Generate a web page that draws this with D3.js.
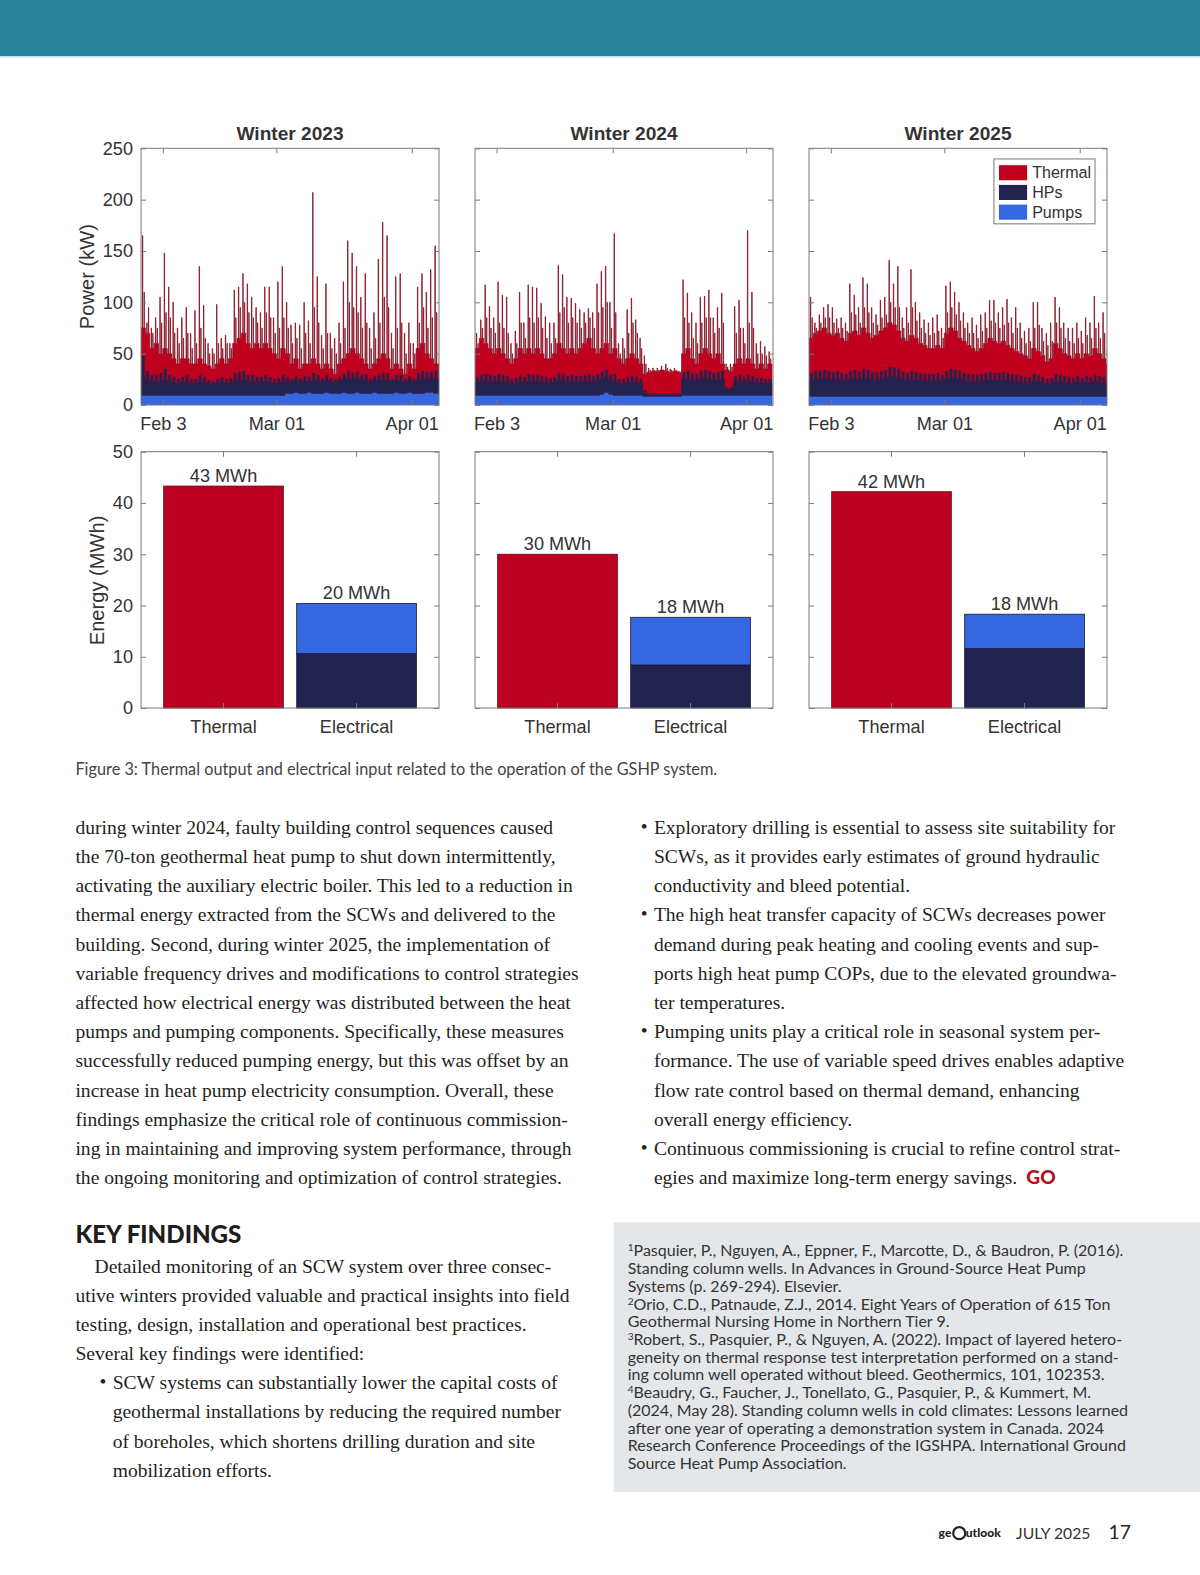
<!DOCTYPE html>
<html lang="en">
<head>
<meta charset="UTF-8" />
<title>Figure 3 - Thermal output and electrical input</title>
<script src="https://d3js.org/d3.v7.min.js"></script>
<style>
  body { margin: 0; background: #fff; }
  svg { display: block; }
  .chart text { font-family: "Liberation Sans", Arial, sans-serif; fill: #333; }
  .body-text { font-family: "Liberation Serif", "Times New Roman", serif; font-size: 19.45px; fill: #231f20; }
  .sans { font-family: Lato, "Open Sans", sans-serif; }
</style>
</head>
<body>
<svg id="page" width="1200" height="1575"></svg>
<script>
// ---- data ----
const years = [2023, 2024, 2025];
const dateTicks = [[1, 3], [2, 1], [3, 1]];          // month index, day
const dateTickLabels = ["Feb 3", "Mar 01", "Apr 01"];
const powerTicks = [0, 50, 100, 150, 200, 250];
const energyTicks = [0, 10, 20, 30, 40, 50];
const seriesNames = ["Thermal", "HPs", "Pumps"];
const barCategories = ["Thermal", "Electrical"];

// daily values from Jan 29, kW
const thermalPeak2023 = [165,80,75,85,105,148,115,100,75,85,95,70,92,135,97,60,55,98,65,68,60,112,115,128,118,105,95,90,115,115,85,120,135,100,78,80,78,100,82,207,125,68,118,70,65,80,120,160,148,135,105,128,75,90,142,178,165,70,125,128,70,80,60,115,128,110,132,155,45];
const thermalMid2023 = [110,95,70,75,80,90,85,70,60,65,70,55,60,75,65,50,50,60,55,60,55,85,95,100,90,85,80,75,90,85,70,75,85,75,60,65,55,70,60,95,80,55,70,55,50,60,75,100,95,90,75,80,55,65,80,105,95,55,75,80,50,60,50,80,95,75,85,90,45];
const thermalBase2023 = [75,70,55,60,50,55,50,45,40,45,45,40,40,45,40,38,35,40,45,40,45,60,65,70,60,55,60,55,60,55,50,45,55,50,40,45,35,40,40,45,40,35,40,35,30,40,45,50,55,50,45,40,35,40,45,50,45,35,40,35,30,40,35,55,60,50,45,40,40];
const hpPeak2023 = [39,24,20,20,22,26,20,18,16,18,20,16,16,20,18,15,14,16,18,16,17,22,23,24,20,20,18,18,20,18,16,17,20,16,14,16,15,17,15,20,18,15,17,15,14,16,18,22,20,20,18,19,14,16,18,20,20,14,17,18,14,16,14,20,22,20,20,22,16];
const hpBase2023 = [18,15,14,14,14,15,14,13,12,13,13,12,12,13,13,12,11,12,13,12,12,14,15,15,14,14,13,13,14,13,12,12,13,12,11,12,11,12,11,13,12,11,12,11,11,12,13,14,14,13,13,13,11,12,13,13,13,11,12,12,11,12,11,13,14,13,13,14,12];
const pumps2023 = [9,9,9,9,9,9,9,9,9,9,9,9,9,9,9,9,9,9,9,9,9,9,9,9,9,9,9,9,9,9,9,9,9,11,11,12,11,11,12,11,11,11,12,11,11,11,12,11,11,12,11,11,11,12,11,11,11,11,12,11,11,12,11,11,11,12,12,11,11];

const thermalPeak2024 = [70,83,117,96,85,120,107,105,60,72,110,80,117,115,114,99,86,80,80,136,127,105,104,99,93,90,94,90,118,130,135,100,167,60,65,93,104,83,65,48,36,36,36,38,40,35,36,33,122,109,90,80,105,106,112,85,95,109,40,40,96,102,75,170,110,60,62,57,52];
const thermalMid2024 = [60,75,85,75,70,80,75,70,50,60,80,65,85,80,85,75,65,60,65,90,95,80,85,80,75,80,85,75,90,95,100,75,90,50,55,70,80,70,55,40,34,34,34,34,36,34,34,32,85,80,65,60,80,85,85,70,75,80,37,37,70,75,60,80,75,50,50,48,45];
const thermalBase2024 = [55,65,60,55,50,55,50,45,40,45,55,50,55,50,55,50,45,45,50,60,55,50,55,50,55,60,65,55,50,55,60,50,55,45,40,45,50,45,40,30,32,33,33,34,33,32,33,32,50,55,45,40,50,55,50,45,50,40,34,33,40,45,40,45,40,35,40,35,40];
const hpPeak2024 = [18,20,21,20,19,21,20,19,16,17,20,18,21,20,20,19,18,17,18,22,21,19,20,19,19,20,21,19,21,22,22,19,21,16,16,18,19,18,16,6,3,3,3,3,3,3,3,3,23,24,22,21,24,25,24,22,23,24,8,8,19,20,18,20,19,17,17,16,16];
const hpBase2024 = [13,14,14,14,13,14,13,13,12,12,14,13,14,14,14,13,13,12,13,15,14,13,14,13,13,14,14,13,14,15,15,13,14,12,12,13,13,13,12,4,2,2,2,2,2,2,2,2,16,16,15,14,16,17,16,15,15,16,6,6,13,14,13,14,13,12,12,12,12];
const pumps2024 = [9,9,9,9,9,9,9,9,9,9,9,9,9,9,9,9,9,9,9,9,9,9,9,9,9,9,9,9,9,10,12,10,9,9,9,9,9,9,9,8,8,8,8,8,8,8,8,8,9,9,9,9,9,9,9,9,9,9,9,9,9,9,9,9,9,9,9,9,9];

const thermalPeak2025 = [105,80,88,95,98,95,84,85,80,118,107,95,124,118,95,88,102,105,141,118,135,85,95,132,100,90,83,80,85,88,75,116,120,110,100,90,80,85,78,88,90,102,102,90,95,103,85,95,80,72,75,100,100,75,70,80,105,95,80,75,75,80,72,85,80,106,80,90,55];
const thermalMid2025 = [85,75,80,85,85,80,75,75,72,90,88,80,95,90,80,78,85,88,100,95,95,75,80,95,82,75,70,68,70,72,65,90,95,88,82,75,70,70,65,72,75,82,80,75,78,80,70,75,65,60,62,75,78,62,58,62,80,75,65,62,60,65,60,68,65,75,65,70,50];
const thermalBase2025 = [65,70,72,75,70,68,70,65,62,70,72,68,75,70,65,68,72,75,80,78,72,65,62,68,65,60,58,55,55,58,55,70,75,72,65,62,58,55,52,55,60,65,62,60,62,58,55,52,50,48,45,55,52,48,42,45,60,55,50,48,45,50,45,50,48,55,50,45,40];
const hpPeak2025 = [23,25,25,26,25,24,25,23,22,25,26,24,27,26,24,24,25,26,29,28,27,24,23,25,24,23,22,22,22,23,21,25,27,26,25,23,22,22,21,22,23,24,23,23,24,23,22,21,20,19,19,22,21,19,17,18,22,21,20,19,18,20,18,20,19,21,20,19,17];
const hpBase2025 = [16,17,17,18,17,16,17,16,15,17,18,16,18,18,16,16,17,18,19,19,18,16,16,17,16,16,15,15,15,16,15,17,18,18,17,16,15,15,14,15,16,16,16,16,16,16,15,15,14,13,13,15,15,13,12,13,15,15,14,13,13,14,13,14,13,15,14,13,12];
const pumps2025 = [8,8,8,8,8,8,8,8,8,8,8,8,8,8,8,8,8,8,8,8,8,8,8,8,8,8,8,8,8,8,8,8,8,8,8,8,8,8,8,8,8,8,8,8,8,8,8,8,8,8,8,8,8,8,8,8,8,8,8,8,8,8,8,8,8,8,8,8,8];

// seasonal energy, MWh
const thermalEnergy = [43.3, 30.0, 42.2];
const hpEnergy = [10.6, 8.4, 11.6];
const pumpEnergy = [9.8, 9.3, 6.7];

const series = {
  2023: [thermalPeak2023, thermalMid2023, thermalBase2023, hpPeak2023, hpBase2023, pumps2023],
  2024: [thermalPeak2024, thermalMid2024, thermalBase2024, hpPeak2024, hpBase2024, pumps2024],
  2025: [thermalPeak2025, thermalMid2025, thermalBase2025, hpPeak2025, hpBase2025, pumps2025]
};

const colors = { Thermal: "#c0001f", HPs: "#23234f", Pumps: "#3467e0" };

// ---- layout ----
const svg = d3.select("#page");
const root = svg.append("g").attr("transform", "scale(1.006)");
const panelLeft = [140.2, 472.2, 804.2];
const panelW = 296.2;
const pTop = 147.4, pBot = 402.6;
const eTop = 449, eBot = 703.8;
const DAY = 864e5;

// banner
root.append("rect").attr("x", 0).attr("y", 0).attr("width", 1200).attr("height", 56).attr("fill", "#2a849b");
root.append("rect").attr("x", 0).attr("y", 56).attr("width", 1200).attr("height", 1.5).attr("fill", "#cfe8ee");

const chart = root.append("g").attr("class", "chart");
const yPower = d3.scaleLinear().domain([0, 250]).range([pBot, pTop]);
const yEnergy = d3.scaleLinear().domain([0, 50]).range([eBot, eTop]);

const styleAxis = sel => {
  sel.select(".domain").remove();
  sel.selectAll(".tick line").attr("stroke", "#7a7a7a");
  sel.selectAll("text").attr("font-size", 18).attr("fill", "#333");
};

years.forEach((year, i) => {
  const left = panelLeft[i];
  const [tPeak, tMid, tBase, hPeak, hBase, pumps] = series[year];
  const start = new Date(year, 0, 29);
  const x = d3.scaleTime().domain([start, new Date(year, 3, 7, 6)]).range([left, left + panelW]);
  const at = d => new Date(+start + d * DAY);

  const clipId = "clip" + year;
  chart.append("clipPath").attr("id", clipId)
    .append("rect").attr("x", left).attr("y", pTop).attr("width", panelW).attr("height", pBot - pTop);
  const g = chart.append("g").attr("clip-path", `url(#${clipId})`);

  // thermal power
  const thermal = [];
  tBase.forEach((b, d) => {
    thermal.push([d, b], [d + 0.30, tPeak[d]], [d + 0.40, b], [d + 0.68, tMid[d]], [d + 0.76, b]);
  });
  thermal.push([tBase.length, tBase[tBase.length - 1]]);
  g.append("path")
    .datum(thermal)
    .attr("fill", colors.Thermal)
    .attr("stroke", "#7e0b1c")
    .attr("stroke-width", 0.7)
    .attr("d", d3.area().curve(d3.curveStepAfter)
      .x(p => x(at(p[0]))).y0(yPower(0)).y1(p => yPower(p[1])));

  // heat pumps, stacked on pumps
  const hp = [];
  hBase.forEach((b, d) => {
    const p = pumps[d];
    hp.push([d, p, p + b], [d + 0.28, p, p + hPeak[d]], [d + 0.80, p, p + b]);
  });
  hp.push([hBase.length, pumps[pumps.length - 1], pumps[pumps.length - 1] + hBase[hBase.length - 1]]);
  g.append("path")
    .datum(hp)
    .attr("fill", colors.HPs)
    .attr("stroke", colors.HPs)
    .attr("stroke-width", 0.5)
    .attr("d", d3.area().curve(d3.curveStepAfter)
      .x(p => x(at(p[0]))).y0(p => yPower(p[1])).y1(p => yPower(p[2])));

  // pumps
  const pm = pumps.map((v, d) => [d, v]);
  pm.push([pumps.length, pumps[pumps.length - 1]]);
  g.append("path")
    .datum(pm)
    .attr("fill", colors.Pumps)
    .attr("d", d3.area().curve(d3.curveStepAfter)
      .x(p => x(at(p[0]))).y0(yPower(0)).y1(p => yPower(p[1])));

  // axes box + ticks
  const tickDates = dateTicks.map(([m, dd]) => new Date(year, m, dd));
  const fmt = (d, k) => dateTickLabels[k];
  chart.append("g").attr("transform", `translate(0,${pBot})`)
    .call(d3.axisBottom(x).tickValues(tickDates).tickFormat(fmt).tickSizeInner(-5).tickSizeOuter(0).tickPadding(12))
    .call(styleAxis);
  chart.append("g").attr("transform", `translate(0,${pTop})`)
    .call(d3.axisTop(x).tickValues(tickDates).tickFormat("").tickSizeInner(-5).tickSizeOuter(0))
    .call(styleAxis);
  chart.append("g").attr("transform", `translate(${left},0)`)
    .call(d3.axisLeft(yPower).tickValues(powerTicks).tickFormat(i === 0 ? d3.format("d") : "").tickSizeInner(-5).tickSizeOuter(0).tickPadding(8))
    .call(styleAxis);
  chart.append("g").attr("transform", `translate(${left + panelW},0)`)
    .call(d3.axisRight(yPower).tickValues(powerTicks).tickFormat("").tickSizeInner(-5).tickSizeOuter(0))
    .call(styleAxis);
  chart.append("rect").attr("x", left).attr("y", pTop).attr("width", panelW).attr("height", pBot - pTop)
    .attr("fill", "none").attr("stroke", "#7a7a7a").attr("stroke-width", 1);

  chart.append("text")
    .attr("x", left + panelW / 2).attr("y", 139)
    .attr("text-anchor", "middle").attr("font-size", 19).attr("font-weight", "bold").attr("fill", "#1a1a1a")
    .text("Winter " + year);

  // ---- energy bars ----
  const xb = d3.scaleBand().domain(barCategories).range([left, left + panelW]).paddingInner(0.1).paddingOuter(0.17);
  const bw = xb.bandwidth();
  const tx = xb("Thermal"), ex = xb("Electrical");
  const elecTotal = hpEnergy[i] + pumpEnergy[i];
  chart.append("rect").attr("x", tx).attr("width", bw)
    .attr("y", yEnergy(thermalEnergy[i])).attr("height", yEnergy(0) - yEnergy(thermalEnergy[i]))
    .attr("fill", "#bb0021").attr("stroke", "#6d0a16").attr("stroke-width", 0.8);
  chart.append("rect").attr("x", ex).attr("width", bw)
    .attr("y", yEnergy(hpEnergy[i])).attr("height", yEnergy(0) - yEnergy(hpEnergy[i]))
    .attr("fill", colors.HPs).attr("stroke", "#1a1a33").attr("stroke-width", 0.8);
  chart.append("rect").attr("x", ex).attr("width", bw)
    .attr("y", yEnergy(elecTotal)).attr("height", yEnergy(hpEnergy[i]) - yEnergy(elecTotal))
    .attr("fill", colors.Pumps).attr("stroke", "#1a1a33").attr("stroke-width", 0.8);
  [[tx, thermalEnergy[i]], [ex, elecTotal]].forEach(([bx, v]) => {
    chart.append("text")
      .attr("x", bx + bw / 2).attr("y", yEnergy(v) - 4)
      .attr("text-anchor", "middle").attr("font-size", 18).attr("fill", "#111")
      .text(Math.round(v) + " MWh");
  });

  chart.append("g").attr("transform", `translate(0,${eBot})`)
    .call(d3.axisBottom(xb).tickSizeInner(-5).tickSizeOuter(0).tickPadding(12))
    .call(styleAxis);
  chart.append("g").attr("transform", `translate(0,${eTop})`)
    .call(d3.axisTop(xb).tickFormat("").tickSizeInner(-5).tickSizeOuter(0))
    .call(styleAxis);
  chart.append("g").attr("transform", `translate(${left},0)`)
    .call(d3.axisLeft(yEnergy).tickValues(energyTicks).tickFormat(i === 0 ? d3.format("d") : "").tickSizeInner(-5).tickSizeOuter(0).tickPadding(8))
    .call(styleAxis);
  chart.append("g").attr("transform", `translate(${left + panelW},0)`)
    .call(d3.axisRight(yEnergy).tickValues(energyTicks).tickFormat("").tickSizeInner(-5).tickSizeOuter(0))
    .call(styleAxis);
  chart.append("rect").attr("x", left).attr("y", eTop).attr("width", panelW).attr("height", eBot - eTop)
    .attr("fill", "none").attr("stroke", "#7a7a7a").attr("stroke-width", 1);
});

// axis titles
chart.append("text").attr("transform", "translate(93,275) rotate(-90)")
  .attr("text-anchor", "middle").attr("font-size", 20).text("Power (kW)");
chart.append("text").attr("transform", "translate(103,577) rotate(-90)")
  .attr("text-anchor", "middle").attr("font-size", 20).text("Energy (MWh)");

// legend
const legend = chart.append("g").attr("transform", "translate(988,158)");
legend.append("rect").attr("width", 100.5).attr("height", 64.5).attr("fill", "#fff").attr("stroke", "#7a7a7a");
seriesNames.forEach((name, k) => {
  legend.append("rect").attr("x", 5).attr("y", 6.2 + k * 19.6).attr("width", 28).attr("height", 15).attr("fill", colors[name]);
  legend.append("text").attr("x", 38).attr("y", 13.7 + k * 19.6).attr("dy", "0.35em")
    .attr("font-size", 16).attr("fill", "#111").text(name);
});

// caption
root.append("text").attr("class", "sans").attr("x", 75).attr("y", 770)
  .attr("font-size", 16.2).attr("fill", "#444")
  .text("Figure 3: Thermal output and electrical input related to the operation of the GSHP system.");

// ---- article text ----
const leftLines = [
  "during winter 2024, faulty building control sequences caused",
  "the 70-ton geothermal heat pump to shut down intermittently,",
  "activating the auxiliary electric boiler. This led to a reduction in",
  "thermal energy extracted from the SCWs and delivered to the",
  "building. Second, during winter 2025, the implementation of",
  "variable frequency drives and modifications to control strategies",
  "affected how electrical energy was distributed between the heat",
  "pumps and pumping components. Specifically, these measures",
  "successfully reduced pumping energy, but this was offset by an",
  "increase in heat pump electricity consumption. Overall, these",
  "findings emphasize the critical role of continuous commission-",
  "ing in maintaining and improving system performance, through",
  "the ongoing monitoring and optimization of control strategies."
];
const rightBullets = [
  ["Exploratory drilling is essential to assess site suitability for",
   "SCWs, as it provides early estimates of ground hydraulic",
   "conductivity and bleed potential."],
  ["The high heat transfer capacity of SCWs decreases power",
   "demand during peak heating and cooling events and sup-",
   "ports high heat pump COPs, due to the elevated groundwa-",
   "ter temperatures."],
  ["Pumping units play a critical role in seasonal system per-",
   "formance. The use of variable speed drives enables adaptive",
   "flow rate control based on thermal demand, enhancing",
   "overall energy efficiency."],
  ["Continuous commissioning is crucial to refine control strat-",
   "egies and maximize long-term energy savings."]
];
const keyParagraph = [
  "Detailed monitoring of an SCW system over three consec-",
  "utive winters provided valuable and practical insights into field",
  "testing, design, installation and operational best practices.",
  "Several key findings were identified:"
];
const keyBullet = [
  "SCW systems can substantially lower the capital costs of",
  "geothermal installations by reducing the required number",
  "of boreholes, which shortens drilling duration and site",
  "mobilization efforts."
];
const footnotes = [
  ["1", "Pasquier, P., Nguyen, A., Eppner, F., Marcotte, D., & Baudron, P. (2016)."],
  ["", "Standing column wells. In Advances in Ground-Source Heat Pump"],
  ["", "Systems (p. 269-294). Elsevier."],
  ["2", "Orio, C.D., Patnaude, Z.J., 2014. Eight Years of Operation of 615 Ton"],
  ["", "Geothermal Nursing Home in Northern Tier 9."],
  ["3", "Robert, S., Pasquier, P., & Nguyen, A. (2022). Impact of layered hetero-"],
  ["", "geneity on thermal response test interpretation performed on a stand-"],
  ["", "ing column well operated without bleed. Geothermics, 101, 102353."],
  ["4", "Beaudry, G., Faucher, J., Tonellato, G., Pasquier, P., & Kummert, M."],
  ["", "(2024, May 28). Standing column wells in cold climates: Lessons learned"],
  ["", "after one year of operating a demonstration system in Canada. 2024"],
  ["", "Research Conference Proceedings of the IGSHPA. International Ground"],
  ["", "Source Heat Pump Association."]
];

const lh = 29;
leftLines.forEach((t, k) => {
  root.append("text").attr("class", "body-text").attr("x", 75).attr("y", 829 + k * lh).text(t);
});

let row = 0, lastLine = null;
rightBullets.forEach(lines => {
  root.append("text").attr("class", "body-text").attr("x", 637).attr("y", 828 + row * lh)
    .attr("font-size", 11).text("\u2022");
  lines.forEach(t => {
    lastLine = root.append("text").attr("class", "body-text").attr("x", 650).attr("y", 829 + row * lh).text(t);
    row++;
  });
});
const endX = 650 + lastLine.node().getComputedTextLength();
root.append("text").attr("class", "sans").attr("x", endX + 9).attr("y", 829 + (row - 1) * lh)
  .attr("font-size", 19).attr("font-weight", 900).attr("fill", "#b3121f").text("GO");

root.append("text").attr("class", "sans").attr("x", 75).attr("y", 1236)
  .attr("font-size", 24).attr("font-weight", 900).attr("fill", "#1d1d1d").text("KEY FINDINGS");
keyParagraph.forEach((t, k) => {
  root.append("text").attr("class", "body-text").attr("x", k === 0 ? 94 : 75).attr("y", 1265 + k * lh).text(t);
});
keyBullet.forEach((t, k) => {
  if (k === 0) root.append("text").attr("class", "body-text").attr("x", 99).attr("y", 1380).attr("font-size", 11).text("\u2022");
  root.append("text").attr("class", "body-text").attr("x", 112).attr("y", 1381 + k * lh).text(t);
});

// references box
root.append("rect").attr("x", 610).attr("y", 1215).attr("width", 600).attr("height", 268).attr("fill", "#e3e7ea");
footnotes.forEach(([sup, t], k) => {
  const tx = root.append("text").attr("class", "sans").attr("x", 624).attr("y", 1249 + k * 17.6)
    .attr("font-size", 15.9).attr("fill", "#333");
  if (sup) {
    tx.append("tspan").attr("font-size", 10).attr("dy", -5).text(sup);
    tx.append("tspan").attr("dy", 5).text(t);
  } else {
    tx.text(t);
  }
});

// footer
const logo = root.append("g").attr("class", "sans").attr("fill", "#222");
logo.append("text").attr("x", 933).attr("y", 1528).attr("font-size", 12).attr("font-weight", 900).text("ge");
logo.append("circle").attr("cx", 953.5).attr("cy", 1524).attr("r", 6).attr("fill", "none").attr("stroke", "#222").attr("stroke-width", 2.2);
logo.append("text").attr("x", 960).attr("y", 1528).attr("font-size", 12).attr("font-weight", 900).text("utlook");
root.append("text").attr("class", "sans").attr("x", 1010).attr("y", 1530)
  .attr("font-size", 15.6).attr("fill", "#333").text("JULY 2025");
root.append("text").attr("class", "sans").attr("x", 1102).attr("y", 1530)
  .attr("font-size", 19).attr("fill", "#222").text("17");
</script>
</body>
</html>
